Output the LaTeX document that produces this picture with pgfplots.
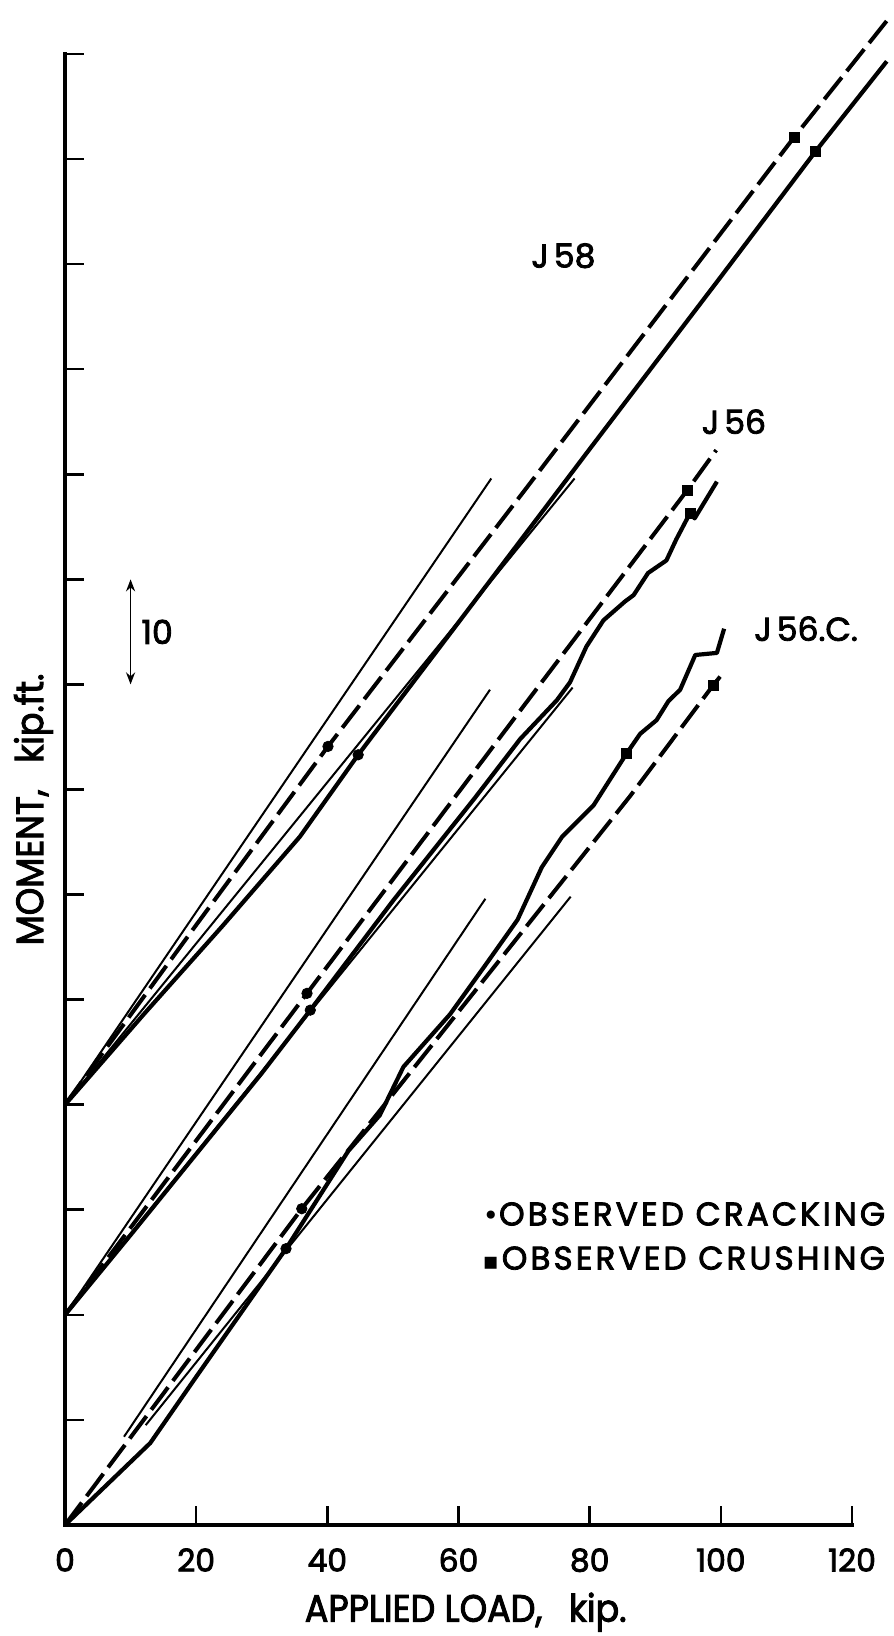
\documentclass[border=0pt]{standalone}
\usepackage{pgfplots}
\pgfplotsset{compat=1.18}
\usetikzlibrary{arrows.meta}
\usepackage{fontspec}
\setmainfont{Poppins}[FakeBold=2.5]
\newfontfamily\labfont{Poppins}[FakeBold=2.5, FakeStretch=0.92]
\newfontfamily\symfont{DejaVu Sans}
\newcommand\tickfont{\fontsize{15.7}{18}\selectfont}
\newcommand\namefont{\fontsize{16.5}{19}\selectfont}
\newcommand\legfont{\fontsize{16.3}{19}\selectfont\addfontfeature{LetterSpace=9.5}}
\newcommand\axlabfont{\labfont\fontsize{19}{22}\selectfont}

\pgfplotsset{
  theory/.style={line width=1pt, black, no markers},
  measured/.style={line width=2.1pt, black, no markers, line join=round},
  computed/.style={line width=2pt, black, no markers, dash pattern=on 14pt off 4pt},
  cracking/.style={only marks, mark=*, mark size=2.6pt, black},
  crushing/.style={only marks, mark=square*, mark size=2.5pt, black},
}

\begin{document}
\begin{tikzpicture}
\path[use as bounding box] (-32.5pt,-55.5pt) rectangle (414pt,762.5pt);
\begin{axis}[
  at={(0,0)}, anchor=south west,
  scale only axis, width=393.5pt, height=735.5pt,
  xmin=0, xmax=120, ymin=0, ymax=140,
  clip=false,
  axis lines=left,
  axis line style={-, line width=2.2pt, line cap=rect},
  tick align=inside,
  major tick length=9.5pt,
  tick style={line width=1.3pt, black},
  xtick={0,20,...,120},
  xticklabels={0,20,40,60,80,100,120},
  ytick={0,10,...,140},
  yticklabels={},
  xticklabel style={font=\tickfont, anchor=north, inner sep=0pt},
  xticklabel shift=11.5pt,
]

% ---- J58 (origin shifted to 40 kip.ft) ----
\addplot[theory] coordinates {(0,40) (65.0,99.6)};
\addplot[theory] coordinates {(0,40) (77.7,99.6)};
\addplot[computed] coordinates {(0,40) (20,57.1) (40.1,74.1) (70,98.4) (111.2,132.1) (126.0,143.7)};
\addplot[measured] coordinates {(0,40) (12,48.6) (24,57.0) (35.8,65.5) (44.7,73.3) (60,85.9) (80,102.4) (100,118.8) (114.4,130.7) (125.3,139.3)};
\addplot[cracking] coordinates {(40.1,74.1) (44.7,73.3)};
\addplot[crushing] coordinates {(111.2,132.1) (114.4,130.7)};

% ---- J56 (origin shifted to 20 kip.ft) ----
\addplot[theory] coordinates {(0,20) (64.8,79.5)};
\addplot[theory] coordinates {(0,20) (77.4,79.7)};
\addplot[computed] coordinates {(0,20) (36.9,50.6) (70,78.0) (94.9,98.5) (99.3,102.3)};
\addplot[measured] coordinates {(0,20) (10,27.6) (20,35.3) (30,43.0) (37.4,49.0) (50,59.4) (62.5,69.2) (69.4,74.8) (75.0,78.5) (77.0,80.2) (79.5,83.6) (82.1,86.1) (85.4,87.9) (86.7,88.5) (88.9,90.6) (91.7,91.8) (93.2,93.8) (95.3,96.3) (96.0,95.8) (99.4,99.3)};
\addplot[cracking] coordinates {(36.9,50.6) (37.4,49.0)};
\addplot[crushing] coordinates {(94.9,98.5) (95.3,96.3)};

% ---- J56.C ----
\addplot[theory] coordinates {(9.0,8.4) (64.1,59.6)};
\addplot[theory] coordinates {(12.3,9.5) (77.1,59.8)};
\addplot[computed] coordinates {(0,0) (36.1,30.1) (86.2,69.4) (98.8,79.9) (100.1,80.9)};
\addplot[measured] coordinates {(0,0) (13.0,7.8) (20,14.1) (33.7,26.3) (43.2,35.6) (48.0,39.0) (51.6,43.6) (58.7,48.6) (64,53.2) (69.0,57.6) (72.7,62.6) (75.8,65.5) (80.6,68.5) (85.6,73.4) (87.7,75.3) (90.2,76.6) (92.0,78.4) (93.8,79.5) (96.1,82.8) (99.4,83.0) (100.5,85.3)};
\addplot[cracking] coordinates {(36.1,30.1) (33.7,26.3)};
\addplot[crushing] coordinates {(98.8,79.9) (85.6,73.4)};

% ---- curve names ----
\node[font=\namefont] at (axis cs:76,120.8) {J\kern2.5pt58};
\node[font=\namefont] at (axis cs:102,105.0) {J\kern2.5pt56};
\node[font=\namefont] at (axis cs:113,85.3) {J\kern2.5pt56.C.};

% ---- scale for moment ----
\draw[{Stealth[length=6pt,width=4.5pt]}-{Stealth[length=6pt,width=4.5pt]}, line width=0.9pt] (axis cs:10,80) -- (axis cs:10,90);
\node[font=\namefont, anchor=west, inner sep=0pt] at (axis cs:11.6,85) {10};

% ---- key ----
\node[font=\legfont, anchor=west, inner sep=0pt] at (axis cs:63.6,29.6) {{\symfont\fontsize{14}{14}\selectfont •}OBSERVED CRACKING};
\node[font=\legfont, anchor=west, inner sep=0pt] at (axis cs:63.6,25.4) {{\symfont\fontsize{12}{12}\selectfont ▪}\kern1.5pt OBSERVED CRUSHING};

% ---- axis titles ----
\node[font=\axlabfont, anchor=base] at (axis cs:61.1,-9.2) {APPLIED LOAD,\hspace{0.7em}kip.};
\node[font=\axlabfont, anchor=base, rotate=90] at (axis cs:-3.35,68.1) {MOMENT,\hspace{0.7em}kip.ft.};
\end{axis}
\end{tikzpicture}
\end{document}
